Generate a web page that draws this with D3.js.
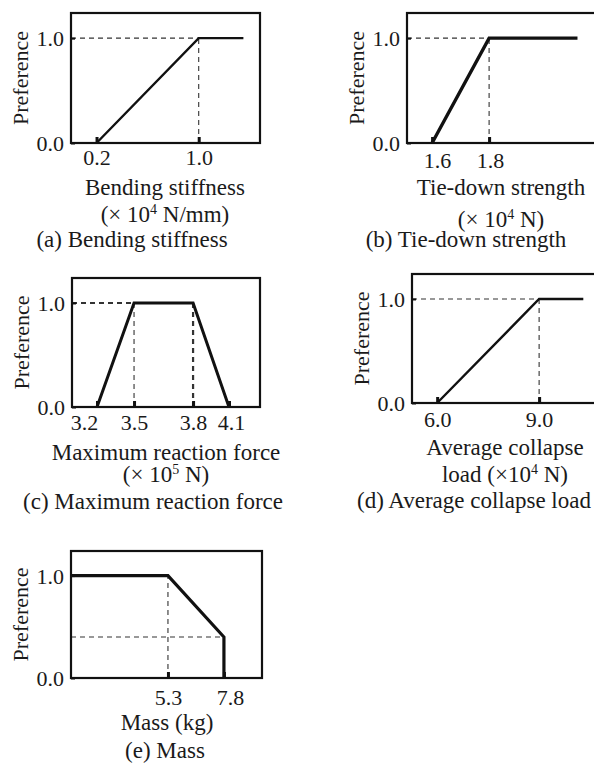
<!DOCTYPE html>
<html>
<head>
<meta charset="utf-8">
<script src="https://cdn.jsdelivr.net/npm/d3@7"></script>
<style>
  body { margin: 0; background: #fff; }
  text { font-family: "Liberation Serif", "Times New Roman", serif; fill: #1a1a1a; }
</style>
</head>
<body>
<svg id="chart" width="594" height="772"></svg>
<script>
// ---- data ----
// (a) bending stiffness
const aX = [0.2, 1.0, 1.35];
const aY = [0, 1, 1];
const aTicks = [0.2, 1.0];
const aHGuide = [[1.0, 1.0]];   // [preference, runs to x]
const aVGuide = [[1.0, 1.0]];   // [x, runs up to preference]
const aTitle = ["Bending stiffness", "(× 10^4 N/mm)"];
const aCaption = "(a) Bending stiffness";

// (b) tie-down strength
const bX = [1.6, 1.8, 2.11];
const bY = [0, 1, 1];
const bTicks = [1.6, 1.8];
const bHGuide = [[1.0, 1.8]];
const bVGuide = [[1.8, 1.0]];
const bTitle = ["Tie-down strength", "(× 10^4 N)"];
const bCaption = "(b) Tie-down strength";

// (c) maximum reaction force
const cX = [3.2, 3.5, 3.8, 4.1];
const cY = [0, 1, 1, 0];
const cTicks = [3.2, 3.5, 3.8, 4.1];
const cHGuide = [[1.0, 3.5]];
const cVGuide = [[3.5, 1.0], [3.8, 1.0]];
const cTitle = ["Maximum reaction force", "(× 10^5 N)"];
const cCaption = "(c) Maximum reaction force";

// (d) average collapse load
const dX = [6.0, 9.0, 10.3];
const dY = [0, 1, 1];
const dTicks = [6.0, 9.0];
const dHGuide = [[1.0, 9.0]];
const dVGuide = [[9.0, 1.0]];
const dTitle = ["Average collapse", "load (×10^4 N)"];
const dCaption = "(d) Average collapse load";

// (e) mass
const eX = [1.0, 5.3, 7.8, 7.8];
const eY = [1, 1, 0.4, 0];
const eTicks = [5.3, 7.8];
const eHGuide = [[0.4, 7.8]];
const eVGuide = [[5.3, 1.0]];
const eTitle = ["Mass (kg)"];
const eCaption = "(e) Mass";

const yTicks = [0, 1];
const yDomain = [0, 1.24];

// ---- layout ----
const panels = [
  {x: 71,  y: 13,  w: 189, h: 130, xDomain: [0, 1.48],       xRange: [0, 1], xs: aX, ys: aY, ticks: aTicks,
   hg: aHGuide, vg: aVGuide, title: aTitle, caption: aCaption, lw: 2.4, labelDx: [0, 0],
   tickBase: 22, titleBase: [52, 79], capBase: 104, titleCx: 94, capCx: 61, hgW: [1.1], vgW: [1.1]},
  {x: 407, y: 13,  w: 195, h: 130, xDomain: [1.512, 2.196], xRange: [0, 1], xs: bX, ys: bY, ticks: bTicks,
   hg: bHGuide, vg: bVGuide, title: bTitle, caption: bCaption, lw: 3.4, labelDx: [5, 1],
   tickBase: 25, titleBase: [52, 84], capBase: 104, titleCx: 94, capCx: 59, hgW: [1.1], vgW: [1.1]},
  {x: 72,  y: 278, w: 188, h: 129, xDomain: cTicks, xRange: [0.133, 0.330, 0.644, 0.835], xs: cX, ys: cY, ticks: cTicks,
   hg: cHGuide, vg: cVGuide, title: cTitle, caption: cCaption, lw: 3, labelDx: [-13, 0, 0, 2],
   tickBase: 23, titleBase: [53, 75], capBase: 102, titleCx: 94, capCx: 81, hgW: [2], vgW: [1.1, 2.2]},
  {x: 412, y: 274, w: 190, h: 129, xDomain: [5.26, 10.85],  xRange: [0, 1], xs: dX, ys: dY, ticks: dTicks,
   hg: dHGuide, vg: dVGuide, title: dTitle, caption: dCaption, lw: 2.4, labelDx: [0, 0],
   tickBase: 24, titleBase: [52, 79], capBase: 105, titleCx: 93, capCx: 62, hgW: [1.1], vgW: [1.1]},
  {x: 71,  y: 551, w: 191, h: 127, xDomain: [0.97, 9.5],    xRange: [0, 1], xs: eX, ys: eY, ticks: eTicks,
   hg: eHGuide, vg: eVGuide, title: eTitle, caption: eCaption, lw: 3.2, labelDx: [0, 6],
   tickBase: 27, titleBase: [52], capBase: 80, titleCx: 96, capCx: 94, hgW: [1.1], vgW: [1.1]}
];

const svg = d3.select("#chart");
const fmt = d3.format(".1f");

// writes "10^4" as 10 with a raised small 4
function richText(sel, str) {
  const parts = str.split(/\^(\d)/);
  parts.forEach((s, i) => {
    if (i % 2 === 1) {
      sel.append("tspan").attr("font-size", 14).attr("dy", -8).text(s);
    } else if (s.length) {
      sel.append("tspan").attr("dy", i > 0 ? 8 : 0).text(s);
    }
  });
}

panels.forEach(p => {
  const g = svg.append("g").attr("transform", "translate(" + p.x + "," + p.y + ")");
  const x = d3.scaleLinear().domain(p.xDomain).range(p.xRange.map(f => f * p.w));
  const y = d3.scaleLinear().domain(yDomain).range([p.h, 0]);

  // dashed guides
  p.hg.forEach((d, i) => {
    g.append("line")
      .attr("x1", 0).attr("x2", x(d[1]))
      .attr("y1", y(d[0])).attr("y2", y(d[0]))
      .attr("stroke", "#333").attr("stroke-width", p.hgW[i])
      .attr("stroke-dasharray", "5,4");
  });
  p.vg.forEach((d, i) => {
    g.append("line")
      .attr("x1", x(d[0])).attr("x2", x(d[0]))
      .attr("y1", y(0)).attr("y2", y(d[1]))
      .attr("stroke", "#333").attr("stroke-width", p.vgW[i])
      .attr("stroke-dasharray", "5,4");
  });

  // preference function
  g.append("path")
    .datum(d3.zip(p.xs, p.ys))
    .attr("d", d3.line().x(d => x(d[0])).y(d => y(d[1])))
    .attr("fill", "none")
    .attr("stroke", "#111")
    .attr("stroke-width", p.lw)
    .attr("stroke-linejoin", "miter");

  // frame
  g.append("rect")
    .attr("x", 0).attr("y", 0).attr("width", p.w).attr("height", p.h)
    .attr("fill", "none").attr("stroke", "#111").attr("stroke-width", 2.2);

  // x axis: short inward ticks and labels
  const xa = g.append("g")
    .attr("transform", "translate(0," + p.h + ")")
    .call(d3.axisBottom(x).tickValues(p.ticks).tickFormat(fmt).tickSizeInner(-6).tickSizeOuter(0));
  xa.select(".domain").remove();
  xa.selectAll(".tick line").attr("stroke", "#111").attr("stroke-width", 3);
  xa.selectAll(".tick text")
    .attr("x", (d, i) => p.labelDx[i])
    .attr("y", p.tickBase).attr("dy", 0)
    .attr("font-size", 22).attr("font-family", null).attr("fill", "#1a1a1a");

  // y axis
  const ya = g.append("g")
    .call(d3.axisLeft(y).tickValues(yTicks).tickFormat(fmt).tickSizeInner(-4).tickSizeOuter(0));
  ya.select(".domain").remove();
  ya.selectAll(".tick line").attr("stroke", "#111").attr("stroke-width", 2);
  ya.selectAll(".tick text")
    .attr("x", -7).attr("dy", "0.35em")
    .attr("font-size", 22).attr("font-family", null).attr("fill", "#1a1a1a");

  // y title
  g.append("text")
    .attr("transform", "translate(-51," + (p.h / 2) + ") rotate(-90)")
    .attr("text-anchor", "middle").attr("dy", "0.35em")
    .attr("font-size", 22)
    .text("Preference");

  // x title lines
  p.title.forEach((t, i) => {
    const tx = g.append("text")
      .attr("x", p.titleCx).attr("y", p.h + p.titleBase[i])
      .attr("text-anchor", "middle").attr("font-size", 23);
    richText(tx, t);
  });

  // caption
  g.append("text")
    .attr("x", p.capCx).attr("y", p.h + p.capBase)
    .attr("text-anchor", "middle").attr("font-size", 23)
    .text(p.caption);
});
</script>
</body>
</html>
